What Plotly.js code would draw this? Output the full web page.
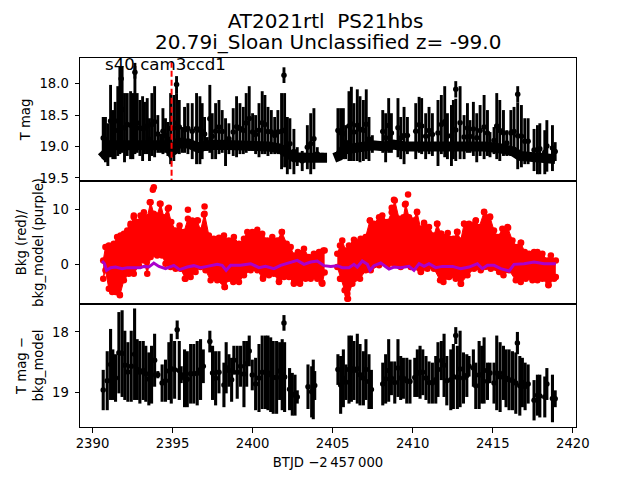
<!DOCTYPE html>
<html><head><meta charset="utf-8">
<script src="https://cdn.plot.ly/plotly-3.0.1.min.js"></script>
<style>html,body{margin:0;padding:0;background:#fff}</style></head>
<body><div id="c" style="width:640px;height:480px"></div>
<script>
const magDay=[2390.67,2390.81,2390.96,2391.13,2391.27,2391.42,2391.58,2391.71,2391.79,2391.85,2392,2392.17,2392.38,2392.52,2392.65,2392.65,2392.79,2392.96,2393.13,2393.25,2393.42,2393.56,2393.71,2393.88,2394.08,2394.25,2394.4,2394.56,2394.71,2394.88,2395.08,2395.25,2395.25,2395.42,2395.6,2395.75,2395.96,2396.23,2396.5,2396.71,2396.85,2397,2397.17,2397.33,2397.48,2397.69,2397.9,2398.1,2398.31,2398.52,2398.79,2399,2399.21,2399.42,2399.6,2399.79,2400,2400.19,2400.4,2400.6,2400.77,2400.96,2401.17,2401.38,2401.58,2401.81,2401.96,2402,2402.17,2402.33,2402.58,2402.79,2403.1,2403.42,2403.63,2403.83,2404.04,2404.35,2405.33,2405.5,2405.67,2405.81,2406.02,2406.17,2406.33,2406.54,2406.71,2406.92,2407.1,2407.27,2407.48,2408.13,2408.31,2408.5,2408.67,2409.08,2409.25,2409.46,2409.67,2410.19,2410.4,2410.56,2410.81,2411.02,2411.23,2411.58,2411.79,2412,2412.17,2412.42,2412.54,2412.69,2412.69,2412.96,2413.21,2413.42,2413.58,2413.79,2414,2414.21,2414.46,2414.67,2414.83,2415.08,2415.25,2415.44,2415.67,2415.88,2416.13,2416.33,2416.56,2416.56,2416.79,2417,2417.21,2417.58,2417.79,2417.94,2418.25,2418.38,2418.73,2418.9];
const magTop=[18.53,18.53,18.63,18.02,18.42,18.29,18.04,17.72,17.82,17.72,18.15,18.15,18.12,18.15,17.67,17.72,18.15,18.26,18.2,18.29,18.23,18.55,18.15,18.04,18.5,18.8,18.39,18.55,18.61,18.15,18.18,17.88,18.15,18.26,18.69,18.37,18.31,18.31,18.15,18.2,18.31,18.53,18.85,18.02,18.47,18.31,18.26,18.42,18.55,18.63,18.39,18.2,18.31,18.37,18.15,18.04,18.47,18.5,18.31,18.12,18.18,18.37,18.42,18.53,18.42,18.15,17.74,18.15,18.53,18.55,18.72,19.01,19.07,18.66,18.47,18.39,19.01,19.1,18.39,18.39,18.39,18.66,18.12,18.05,18.31,18.09,18.2,18.26,18.09,18.53,18.82,18.42,18.47,18.23,18.47,18.23,18.53,18.37,18.53,18.31,18.21,18.23,18.47,18.37,18.47,18.26,18.18,18.04,18.47,18.34,18.26,17.96,18.24,18.04,18.5,18.31,18.58,18.29,18.47,18.34,18.18,18.42,18.77,18.69,18.15,18.26,18.42,18.74,18.42,18.37,18.04,18.3,18.34,18.55,18.55,18.72,18.66,18.63,18.74,18.58,18.66,18.93];
const magBot=[19.2,19.25,19.31,19.17,19.2,19.2,19.15,19.12,18.02,19.1,19.25,19.15,19.2,19.2,19.12,17.92,19.1,19.15,19.23,19.12,19.12,19.23,19.15,19.17,19.1,19.1,19.12,19.1,19.15,19.28,19.23,18.15,19.1,19.12,19.1,19.1,19.12,19.2,19.28,19.28,19.2,19.07,19.07,19.1,19.2,19.2,19.12,19.1,19.31,19.12,19.15,19.17,19.12,19.12,19.1,19.07,19.07,19.12,19.17,19.12,19.12,19.15,19.12,19.12,19.12,19.36,17.99,19.33,19.44,19.36,19.44,19.31,19.39,19.36,19.44,19.36,19.23,19.22,19.1,19.17,19.2,19.2,19.23,19.23,19.23,19.23,19.25,19.23,19.2,19.23,19.1,19.1,19.25,19.1,19.1,19.17,19.2,19.28,19.12,19.2,19.1,19.12,19.2,19.12,19.15,19.31,19.12,19.17,19.2,19.31,19.2,18.22,19.23,19.2,19.2,19.1,19.1,19.15,19.25,19.15,19.2,19.15,19.17,19.12,19.2,19.23,19.15,19.15,19.15,19.15,18.3,19.36,19.33,19.28,19.28,19.39,19.44,19.44,19.44,19.4,19.39,19.23];
const bandDay=[2390.55,2390.9,2391.1,2392,2393,2394,2394.7,2394.92,2395.1,2395.3,2396,2396.6,2397.1,2398,2399,2400,2401,2401.7,2402.1,2402.6,2403.5,2404.65,null,2405.1,2405.4,2405.7,2406.2,2407,2407.5,2408.3,2408.8,2409.5,2410.5,2411.5,2412.5,2413.5,2414.5,2415.5,2416.3,2416.7,2417.5,2418.9];
const bandMag=[19.18,19.1,18.98,18.98,18.98,18.98,18.98,19.08,19.05,18.95,18.95,19.02,18.98,18.97,18.97,18.98,19,19.03,19.1,19.17,19.18,19.18,null,19.18,19.15,19.05,19.03,19.02,18.98,19,18.97,19,19,18.97,18.98,19,19,19.03,19.08,19.15,19.17,19.2];
const markDay=[2394.94,2394.94];
const markMag=[17.65,19.56];

const bkgTopDayA=[2390.67,2390.81,2391.02,2391.33,2391.54,2391.75,2391.96,2392.17,2392.38,2392.58,2392.79,2393,2393.21,2393.42,2393.63,2393.83,2394.04,2394.25,2394.46,2394.71,2394.92,2395.19,2395.44,2395.71,2395.96,2396.23,2396.54,2396.75,2397,2397.27,2397.58,2397.9,2398.21,2398.52,2398.83,2399.15,2399.46,2399.67,2399.98,2400.29,2400.6,2400.92,2401.23,2401.54,2401.83,2402.13,2402.38,2402.58,2402.83,2403.21,2403.52,2403.83,2404.15,2404.5];
const bkgTopA=[0.72,3.15,3.45,3.76,4.97,5.27,5.57,6.18,7.09,8.6,7.7,8.91,9.51,8.6,11.33,9.21,8.91,11.03,8.6,10.12,7.7,6.18,7.09,5.88,8.3,8,8,6.18,9.21,5.27,4.67,4.85,5.27,4.36,4.97,3.76,4.67,5.88,5.88,6.3,5.57,4.36,4.97,4.36,5.88,3.76,3.15,1.63,2.24,2.85,1.33,1.94,2.24,2.54];
const bkgBotDayA=[2390.67,2390.81,2391.02,2391.23,2391.44,2391.71,2391.96,2392.27,2392.58,2392.9,2393.21,2393.42,2393.63,2394.04,2394.35,2394.56,2394.88,2395.19,2395.5,2395.81,2396.13,2396.44,2396.75,2397.06,2397.38,2397.79,2398.25,2398.52,2398.79,2399.15,2399.46,2399.88,2400.29,2400.65,2401.02,2401.33,2401.65,2401.96,2402.27,2402.58,2402.96,2403.31,2403.63,2404.04,2404.35,2404.5];
const bkgBotA=[-2.61,-1.09,-4.43,-5.03,-5.03,-5.64,-2.91,-1.7,-1.7,-0.18,0.72,-1.7,1.33,1.63,1.63,0.12,-0.49,-0.79,-0.79,-2.61,-2.3,-1.4,-0.49,-1.09,-2.91,-2.91,-4.12,-2.61,-3.21,-3.21,-2,-1.09,-1.09,-2.61,-2,-1.7,-3.21,-2.3,-2.3,-3.52,-3.52,-2.61,-2.61,-2.61,-3.52,-1.5];
const bkgTopDayB=[2405.29,2405.46,2405.6,2405.81,2406.02,2406.33,2406.75,2407.06,2407.33,2407.58,2407.9,2408.1,2408.42,2408.69,2408.88,2409.15,2409.42,2409.56,2409.77,2410.04,2410.27,2410.5,2410.71,2411.02,2411.33,2411.54,2411.75,2412.06,2412.27,2412.54,2412.79,2413,2413.21,2413.52,2413.94,2414.15,2414.46,2414.83,2415.08,2415.33,2415.6,2415.92,2416.23,2416.54,2416.75,2417,2417.27,2417.58,2417.79,2418.1,2418.42,2418.63,2418.94];
const bkgTopB=[1.94,3.45,4.36,2.54,3.45,4.48,4.67,4.97,8,7.39,8.6,8.91,7.7,9.51,11.63,8.3,8.6,11.03,8.6,8,9.51,6.48,7.39,6.79,5.27,7.39,5.57,4.97,4.67,4.67,5.88,4.36,7.39,7.39,8,6.79,9.51,8.6,6.18,4.97,6.48,6.79,4.36,3.15,3.94,2.24,1.94,2.24,2.24,1.94,0.72,1.63,0.72];
const bkgBotDayB=[2405.29,2405.5,2405.75,2405.92,2406.23,2406.71,2407.06,2407.38,2407.9,2408.42,2409.25,2409.88,2410.5,2410.92,2411.33,2411.71,2411.92,2412.27,2412.69,2413,2413.42,2413.83,2414.25,2414.88,2415.4,2415.67,2416.02,2416.44,2416.75,2417.06,2417.48,2417.79,2418.1,2418.48,2418.83,2418.94];
const bkgBotB=[-0.49,-2.61,-4.73,-6.25,-3.52,-2.61,-1.09,-1.09,-0.18,-0.18,-0.49,-0.49,-1.4,-0.79,-0.79,-2.91,-3.21,-2.3,-2.61,-3.52,-2,-0.79,-1.09,-0.79,-1.4,-2,-1.09,-2.91,-3.21,-2.61,-2.91,-2.91,-2.61,-3.82,-2.61,-2.3];
const bkgDotDay=[2393.83,2393.77,2393.58,2394.21,2394.77,2395.96,2397,2396.96,2392.58,2392.38,2396.58,2401.83,2394.04,2393.48,2395.77,2398.27,2391.71,2404.35,2402.58,2402.96,2401.65,2400.65,2409.71,2408.83,2409.52,2408.69,2410.27,2407.33,2410.71,2411.52,2411.79,2412.19,2412.77,2414.46,2414.83,2413.21,2413.94,2415.96,2416.77,2410.52,2413.02,2418.48,2405.96,2405.92,2404.42,2404.31,2405.46];
const bkgDot=[14.06,13.57,11.33,11.03,10.3,9.94,10.54,9.09,8.91,7.39,8,5.88,1.82,1.63,-2.61,-4.12,-5.52,-3.33,-3.39,-3.39,-3.09,-2.43,12.72,11.75,10.91,10.3,9.57,8,7.57,7.39,5.57,5.69,5.94,9.57,8.72,7.39,8,6.67,3.94,-1.28,-3.52,-3.7,-6.25,-5.34,2.54,-3.33,-2.61];
const modelDay=[2390.6,2390.75,2390.88,2391.13,2391.44,2391.85,2392.17,2392.58,2393,2393.21,2393.52,2393.83,2394.15,2394.56,2394.88,2395.08,2395.44,2395.92,2396.33,2396.75,2397.17,2397.79,2398.1,2398.35,2398.63,2399.25,2399.88,2400.4,2400.81,2401.33,2401.75,2402.27,2402.79,2403.21,2403.63,2404.04,2404.46,2404.88,2405.29,2405.6,2406.02,2406.33,2406.54,2406.85,2407.17,2407.33,2407.58,2408,2408.52,2408.83,2409.25,2409.77,2410.08,2410.4,2410.71,2411.02,2411.44,2411.85,2412.48,2413,2413.52,2414.04,2414.35,2414.67,2415.08,2415.5,2416.02,2416.33,2416.96,2417.58,2418.21,2418.94];
const modelBkg=[0.6,0.12,-1.1,-0.6,-0.49,-0.79,-0.6,-0.6,-0.6,-0.37,-0.49,0.24,-0.37,-0.79,-0.37,-0.18,-0.97,-0.49,-0.24,-0.6,-0.37,0,-0.18,-1.09,-0.18,-0.18,0.12,-0.6,-0.37,-0.79,-0.18,0.24,0.72,0,0.42,0.6,-0.24,-0.37,-0.24,-0.6,-0.6,0,-0.49,0.6,0,-1.09,-0.24,0.24,-0.85,-0.49,-0.6,-0.37,-1.09,0.12,-0.37,0.12,-0.6,-0.37,-0.37,-0.79,-0.49,0.12,-0.79,-0.18,-0.18,-0.79,-1.21,0,0.12,0.42,0.12,0.12];

const subDay=[2390.67,2390.92,2391.13,2391.27,2391.44,2391.65,2391.85,2392.02,2392.21,2392.42,2392.63,2392.79,2392.96,2393.17,2393.33,2393.52,2393.69,2393.88,2394.08,2394.35,2394.56,2394.77,2394.92,2395.13,2395.29,2395.42,2395.54,2395.75,2395.92,2396.13,2396.33,2396.54,2396.75,2396.92,2397.33,2397.5,2397.69,2397.9,2398.21,2398.35,2398.52,2398.69,2398.83,2399.04,2399.25,2399.46,2399.63,2399.79,2399.98,2400.19,2400.4,2400.6,2400.81,2400.96,2401.13,2401.29,2401.5,2401.69,2401.85,2401.96,2402,2402.31,2402.48,2402.65,2402.79,2403.46,2403.69,2403.79,2403.88,2405.33,2405.5,2405.67,2405.83,2406.02,2406.17,2406.33,2406.54,2406.71,2406.92,2407.08,2407.27,2407.42,2408.13,2408.31,2408.5,2408.67,2408.88,2409.08,2409.25,2409.42,2409.63,2409.83,2410.13,2410.29,2410.46,2410.63,2410.83,2411.02,2411.23,2411.44,2411.58,2411.79,2411.96,2412.13,2412.38,2412.54,2412.69,2412.79,2412.96,2413.17,2413.38,2413.52,2413.79,2413.94,2414.15,2414.31,2414.46,2414.67,2414.83,2415.08,2415.25,2415.46,2415.67,2415.83,2416.02,2416.23,2416.44,2416.54,2416.69,2416.85,2417.02,2417.21,2417.58,2417.79,2417.94,2418.25,2418.38,2418.73,2418.9];
const subTop=[18.63,18.32,17.95,18.29,18.37,17.67,17.64,17.98,18.17,17.98,17.61,18.12,18.15,18.15,18.23,18.34,18.23,18.03,18.65,18.54,18.46,18.17,18.03,18.15,17.81,18.15,18.57,18.29,18.32,18.2,18.2,18.15,18.12,18.29,17.98,18.23,18.32,18.32,18.51,18.17,18.37,18.43,18.23,18.23,18.23,18.15,18.15,18.06,18.46,18.43,18.2,18.06,18.06,18.06,18.09,18.15,18.15,18.17,18.12,17.72,18.17,18.6,18.68,18.71,18.97,18.54,18.57,18.46,18.65,18.37,18.4,18.29,18.54,18.06,18.06,18.15,18.03,18.2,18.32,18.12,18.37,18.63,18.51,18.37,18.12,18.49,18.49,18.12,18.4,18.43,18.43,18.46,18.43,18.29,18.23,18.29,18.4,18.49,18.51,18.4,18.17,18.15,18.03,18.4,18.29,18.2,17.92,18.23,17.98,18.34,18.37,18.4,18.29,18.51,18.15,18.23,18.09,18.51,18.51,18.51,18.06,18.17,18.23,18.29,18.29,18.32,18.34,18.0,18.4,18.43,18.51,18.54,18.8,18.71,18.71,18.74,18.6,18.71,18.97];
const subBot=[19.3,19.3,19.13,19.13,19.16,19.02,19.08,19.13,19.16,19.16,19.13,19.13,19.19,19.13,19.16,19.22,19.19,18.91,18.77,19.16,19.16,19.13,19.19,19.11,18.12,19.13,18.85,19.25,19.25,19.19,19.19,19.22,19.13,18.85,18.34,19.13,19.22,19.02,19.25,19.02,18.91,19.16,18.71,19.11,18.91,19.25,18.91,18.57,18.97,19.3,19.33,19.28,19.28,19.3,19.33,19.36,19.36,19.13,19.3,17.98,19.33,19.3,19.39,19.39,19.19,19.28,19.42,19.45,19.13,18.88,19.36,19.25,19.13,19.19,19.16,19.13,19.19,19.22,19.22,19.13,19.28,19.28,19.22,19.19,19.16,19.05,19.19,19.08,19.13,19.11,19.19,19.19,19.08,19.08,19.11,19.05,19.13,19.19,19.19,19.19,19.08,18.8,19.08,19.22,19.3,19.28,18.2,19.28,19.25,19.19,19.08,18.74,18.91,19.28,19.28,19.19,19.19,19.13,18.85,19.19,19.3,19.33,19.13,19.25,19.3,19.3,19.36,18.37,19.39,19.25,19.3,19.19,19.47,19.39,19.42,19.42,19.13,19.5,19.25];

const xTicks=[2390,2395,2400,2405,2410,2415,2420];
const tickFont={family:'DejaVu Sans',size:13.2,color:'#000'};
const titleFont={family:'DejaVu Sans',size:13.2,color:'#000'};
const mid=(a,b)=>a.map((v,i)=>(v+b[i])/2);
const half=(a,b)=>a.map((v,i)=>Math.abs(b[i]-v)/2);
const barTrace=(x,top,bot,xa,ya,thick)=>({type:'scatter',mode:'markers',x:x,y:mid(top,bot),xaxis:xa,yaxis:ya,
  marker:{color:'#000',size:5.5},
  error_y:{type:'data',symmetric:true,array:half(top,bot),width:0,thickness:thick,color:'#000'},hoverinfo:'skip'});
const red=(x,y,fill)=>({type:'scatter',mode:'lines+markers',x:x,y:y,xaxis:'x2',yaxis:'y2',fill:fill||'none',fillcolor:'#ff0000',
  line:{color:'#ff0000',width:1},marker:{color:'#ff0000',size:6.5},hoverinfo:'skip'});

const data=[
 {type:'scatter',mode:'lines',x:bandDay,y:bandMag,xaxis:'x',yaxis:'y',line:{color:'#000',width:10},hoverinfo:'skip'},
 barTrace(magDay,magTop,magBot,'x','y',2.9),
 {type:'scatter',mode:'lines',x:markDay,y:markMag,xaxis:'x',yaxis:'y',line:{color:'#ff0000',width:2,dash:'6px,3px'},hoverinfo:'skip'},
 red(bkgTopDayA,bkgTopA),red(bkgBotDayA,bkgBotA,'tonexty'),
 red(bkgTopDayB,bkgTopB),red(bkgBotDayB,bkgBotB,'tonexty'),
 Object.assign(red(bkgDotDay,bkgDot),{mode:'markers'}),
 {type:'scatter',mode:'lines',x:modelDay,y:modelBkg,xaxis:'x2',yaxis:'y2',line:{color:'#aa00cc',width:3},hoverinfo:'skip'},
 barTrace(subDay,subTop,subBot,'x3','y3',3.1)
];
const xBase={range:[2389.22,2420.2],showgrid:false,zeroline:false,showline:true,mirror:true,linecolor:'#000',linewidth:1,tickvals:xTicks};
const yBase={showgrid:false,zeroline:false,showline:true,mirror:true,linecolor:'#000',linewidth:1,ticks:'outside',ticklen:4.5,tickwidth:1,tickcolor:'#000',tickfont:tickFont,ticklabelstandoff:3,automargin:false};
const layout={width:640,height:480,paper_bgcolor:'#fff',plot_bgcolor:'#fff',showlegend:false,
 margin:{l:80,r:64,t:57.6,b:52.8,pad:0},
 title:{text:'AT2021rtl  PS21hbs',font:{family:'DejaVu Sans',size:20,color:'#000'},x:0.495,xref:'paper',xanchor:'center',y:0.956,yref:'container',yanchor:'middle'},
 xaxis:Object.assign({},xBase,{domain:[0,1],anchor:'y',showticklabels:false,ticks:''}),
 xaxis2:Object.assign({},xBase,{domain:[0,1],anchor:'y2',showticklabels:false,ticks:''}),
 xaxis3:Object.assign({},xBase,{domain:[0,1],anchor:'y3',ticks:'outside',ticklen:4.5,tickwidth:1,tickcolor:'#000',tickfont:tickFont,tickformat:'d',
   title:{text:'BTJD \u22122\u2009457\u2009000',font:titleFont,standoff:7}}),
 yaxis:Object.assign({},yBase,{domain:[2/3,1],anchor:'x',range:[19.548,17.592],tickvals:[18,18.5,19,19.5],ticktext:['18.0','18.5','19.0','19.5'],title:{text:'T mag',font:titleFont,standoff:5}}),
 yaxis2:Object.assign({},yBase,{domain:[1/3,2/3],anchor:'x2',range:[-7.22,15.18],tickvals:[0,10],title:{text:'Bkg (red)/<br>bkg_model (purple)',font:titleFont,standoff:5}}),
 yaxis3:Object.assign({},yBase,{domain:[0,1/3],anchor:'x3',range:[19.579,17.536],tickvals:[18,19],title:{text:'T mag \u2212<br>bkg_model',font:titleFont,standoff:5}}),
 annotations:[
  {text:'20.79i_Sloan Unclassified z= -99.0',xref:'paper',yref:'paper',x:0.5,y:1,xanchor:'center',yanchor:'middle',yshift:15.6,showarrow:false,font:{family:'DejaVu Sans',size:20,color:'#000'}},
  {text:'s40 cam3ccd1',xref:'paper',yref:'paper',x:0.0456,y:1.0,xanchor:'left',yanchor:'middle',yshift:-6,showarrow:false,font:{family:'DejaVu Sans',size:16.67,color:'#000'}}]
};
Plotly.newPlot('c',data,layout,{staticPlot:true,displayModeBar:false});
</script></body></html>
